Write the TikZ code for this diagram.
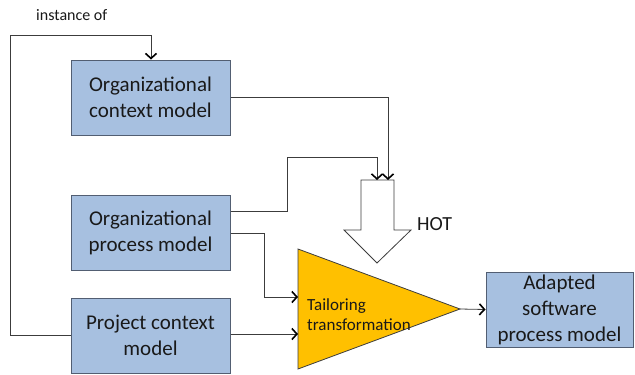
\documentclass[tikz,border=0pt]{standalone}
\usepackage{fontspec}
\setmainfont{Carlito}
\usetikzlibrary{arrows.meta}
\definecolor{boxfill}{RGB}{167,192,224}
\definecolor{boxline}{RGB}{82,94,114}
\definecolor{tailor}{RGB}{255,192,0}
\definecolor{wire}{RGB}{60,60,60}
\begin{document}
\begin{tikzpicture}[x=1pt,y=-1pt,
  modelbox/.style={draw=boxline,line width=1pt,fill=boxfill,minimum width=159pt,minimum height=75pt,
    align=center,font=\fontsize{21}{26}\selectfont,text=black!90,inner sep=0pt},
  flow/.style={draw=wire,line width=0.8pt,-{Straight Barb[length=5pt,width=11pt,line width=1.6pt,color=black]}}]
\useasboundingbox (0,0) rectangle (635,375);

% model boxes
\node[modelbox] (orgctx) at (150.5,97.5) {Organizational\\context model};
\node[modelbox] (orgproc) at (150.5,233) {Organizational\\process model};
\node[modelbox] (projctx) at (150.5,335.5) {Project context\\model};
\node[modelbox,minimum width=147pt] (adapted) at (559.5,309.5) {Adapted\\software\\process model};

% tailoring transformation (triangle)
\coordinate (tl) at (298,249);
\coordinate (bl) at (298,369);
\coordinate (apex) at (460,309);
\fill[tailor,draw=wire,line width=0.8pt] (tl) -- (apex) -- (bl) -- cycle;
\node[anchor=west,align=left,font=\fontsize{17}{20}\selectfont,text=black!90,inner sep=0pt] (tailtext) at (307,315)
  {Tailoring\\transformation};
\coordinate (inA) at (298,297);
\coordinate (inB) at (298,334);

% hollow HOT arrow
\draw[draw=wire,line width=0.8pt,fill=white] (361,180) -- (394,180) -- (394,230) -- (411,230)
  -- (377,263) -- (344,230) -- (361,230) -- cycle;
\node[anchor=west,font=\fontsize{20}{22}\selectfont,text=black!90,inner sep=0pt] (hot) at (417,224) {HOT};
\coordinate (hotA) at (377,180);
\coordinate (hotB) at (388,180);

% "instance of" loop
\node[anchor=west,font=\fontsize{16}{18}\selectfont,text=black!90,inner sep=0pt] (inst) at (36,15) {instance of};
\draw[flow] (projctx.west) -- (10,335.5) -- (10,35) -- (151,35) -- (orgctx.north -| 151,0);

% inputs to the HOT arrow
\draw[flow] (orgctx.east) -- (hotB |- orgctx.east) -- (hotB);
\draw[flow] (orgproc.east |- 0,211) -- (287,211) -- (287,157) -- (hotA |- 0,157) -- (hotA);

% inputs to the tailoring transformation
\draw[flow] (orgproc.east) -- (264,233) -- (264,297) -- (inA);
\draw[flow] (projctx.east |- inB) -- (inB);

% output
\draw[flow] (apex) -- (adapted.west);
\end{tikzpicture}
\end{document}
